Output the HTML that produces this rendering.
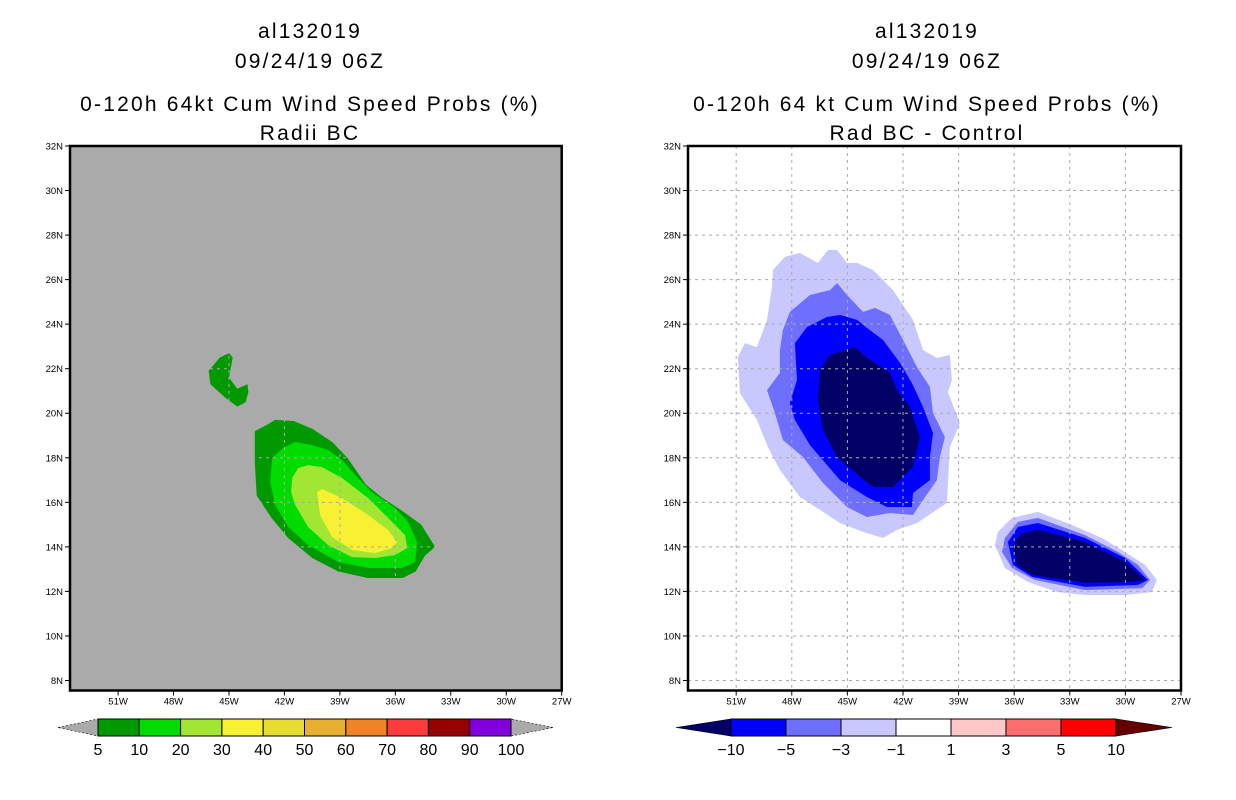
<!DOCTYPE html>
<html><head><meta charset="utf-8"><style>
body{margin:0;background:#fff;}
svg{display:block;font-family:"Liberation Sans",sans-serif;}
</style></head><body>
<svg id="c" width="1236" height="800" viewBox="0 0 1236 800">
<g id="left"></g>
<g id="right"></g>
</svg>
<script>
// ---- data (lon in deg W, lat in deg N) ----
const lonTicks = [51,48,45,42,39,36,33,30,27];
const latTicks = [32,30,28,26,24,22,20,18,16,14,12,10,8];
const leftLevels = ['5','10','20','30','40','50','60','70','80','90','100'];
const leftColors = ['#009900','#00dc00','#a0e632','#f8f032','#e6dc32','#e6af2d','#f08228','#fa3c3c','#960000','#8200dc'];
const rightLevels = ['-10','-5','-3','-1','1','3','5','10'];
const rightColors = ['#0000ff','#6e6eff','#c8c8ff','#ffffff','#ffc8c8','#ff6e6e','#ff0000'];
const left5a = [[43.6,19.2],[42.9,19.5],[42.5,19.7],[41.5,19.65],[40.5,19.3],[39.4,18.7],[38.6,18.0],[37.6,16.8],[36.7,16.2],[35.6,15.6],[34.6,15.0],[33.85,14.0],[34.4,13.6],[34.9,12.9],[35.6,12.6],[37.5,12.6],[39.1,12.9],[40.5,13.5],[41.8,14.4],[42.7,15.3],[43.5,16.3],[43.6,17.8]];
const left5b = [[46.1,21.9],[45.5,22.5],[45.0,22.7],[44.8,22.5],[45.0,21.6],[44.55,21.1],[44.0,21.3],[43.95,20.95],[44.1,20.5],[44.55,20.3],[45.2,20.7],[46.0,21.3]];
const left10 = [[42.66,17.99],[42.07,18.44],[41.42,18.71],[40.5,18.57],[39.64,18.35],[38.88,17.9],[38.18,17.23],[37.26,16.46],[36.02,15.75],[35.31,15.12],[34.82,14.22],[34.93,13.32],[35.63,13.05],[37.47,13.05],[39.09,13.32],[40.72,14.08],[41.79,14.89],[42.5,15.88],[42.77,16.91]];
const left20 = [[41.58,17.09],[41.26,17.54],[40.72,17.67],[39.96,17.58],[38.88,17.09],[37.47,16.19],[36.39,15.3],[35.47,14.53],[35.36,13.95],[36.02,13.63],[37.1,13.5],[38.34,13.54],[39.64,14.08],[40.72,14.89],[41.42,15.88],[41.64,16.46]];
const left30 = [[40.23,16.46],[39.96,16.6],[38.88,16.19],[37.47,15.43],[36.39,14.76],[35.9,14.22],[36.17,13.95],[37.1,13.72],[38.34,13.86],[39.42,14.44],[40.07,15.43]];
const rA1 = [[49.02,26.43],[48.37,27.02],[47.56,27.2],[46.59,26.75],[46.05,27.33],[45.56,27.33],[45.02,26.75],[44.48,26.75],[43.62,26.43],[42.54,25.53],[41.46,24.19],[40.92,22.84],[40.17,22.48],[39.47,22.62],[39.36,21.49],[39.57,20.95],[38.93,19.56],[39.47,18.48],[39.63,15.97],[41.25,15.07],[42.33,14.76],[43.08,14.4],[44.16,14.67],[45.4,15.07],[46.48,15.66],[47.56,16.24],[48.64,17.45],[49.29,18.48],[49.88,19.7],[50.8,20.91],[50.91,22.53],[50.53,23.15],[49.88,22.97],[49.34,24.19],[49.07,25.67]];
const rA3 = [[48.48,23.74],[48.1,24.55],[47.02,25.31],[45.94,25.53],[45.56,25.85],[45.02,25.31],[44.16,24.55],[43.51,24.73],[42.7,24.41],[42.0,23.29],[41.25,22.08],[40.55,21.18],[40.38,20.01],[39.74,18.93],[40.01,18.04],[40.17,17.0],[40.92,16.1],[41.46,15.43],[42.7,15.52],[43.95,15.34],[45.02,15.79],[46.32,16.87],[47.4,18.04],[48.48,18.8],[48.91,20.01],[49.34,21.04],[48.64,21.81],[48.64,22.84]];
const rA5 = [[47.83,23.15],[47.18,23.87],[46.1,24.32],[45.4,24.41],[44.48,24.19],[43.95,23.83],[43.08,23.29],[42.16,22.26],[41.52,21.36],[40.92,20.28],[40.38,19.11],[40.55,18.04],[40.55,17.0],[41.46,16.42],[41.52,15.79],[42.87,15.79],[43.95,16.24],[45.4,17.0],[46.48,18.04],[47.02,18.57],[47.83,19.7],[48.1,20.46],[47.72,21.49]];
const rA10 = [[46.48,21.94],[45.94,22.62],[44.59,22.97],[43.78,22.39],[42.7,21.81],[42.33,21.04],[41.62,20.28],[41.09,18.93],[41.46,17.59],[42.54,16.69],[43.62,16.69],[44.32,17.14],[45.56,18.04],[46.32,19.25],[46.59,20.59]];
const rB1 = [[36.88,14.67],[36.12,15.3],[34.72,15.57],[32.88,14.98],[31.26,14.4],[30.02,13.77],[28.94,13.19],[28.3,12.51],[28.57,11.97],[30.02,11.84],[32.18,11.84],[33.64,11.97],[35.26,12.42],[36.5,13.05],[37.04,14.08]];
const rB3 = [[36.5,14.4],[35.8,15.12],[34.72,15.3],[32.18,14.53],[30.4,13.77],[29.32,13.19],[28.67,12.51],[29.1,12.15],[32.18,12.06],[34.88,12.51],[36.12,13.05],[36.66,13.77]];
const rB5 = [[36.34,14.22],[35.8,14.89],[34.72,15.07],[32.18,14.4],[30.02,13.5],[28.78,12.51],[29.32,12.29],[32.18,12.2],[35.04,12.65],[36.07,13.19]];
const rB10 = [[36.07,14.08],[35.58,14.62],[34.72,14.76],[32.18,14.22],[30.02,13.32],[28.94,12.51],[29.64,12.42],[32.18,12.38],[35.04,12.74],[35.85,13.19]];

const NS='http://www.w3.org/2000/svg';
function mk(parent,tag,attrs){const e=document.createElementNS(NS,tag);for(const k in attrs)e.setAttribute(k,attrs[k]);parent.appendChild(e);return e;}
const TOP=146,BOT=690.5,LATMAX=32,PXLAT=22.27;
function panel(g,x0,x1,bg,gridCol,layers,titleL3,titleL4,cx){
  const X=lon=>x1-(lon-27)*(x1-x0)/26.6;
  const Y=lat=>TOP+(LATMAX-lat)*PXLAT;
  const t=[['al132019',38],['09/24/19 06Z',68],[titleL3,111],[titleL4,140]];
  t.forEach((r,i)=>{const e=mk(g,'text',{x:cx,y:r[1],'text-anchor':'middle','font-size':'21','letter-spacing':'2.2'});e.textContent=r[0];
    
    });
  const bgR=mk(g,'rect',{x:x0,y:TOP,width:x1-x0,height:BOT-TOP,fill:bg});
  
  
  layers.forEach(L=>{const p=mk(g,'polygon',{points:L.pts.map(d=>X(d[0]).toFixed(1)+','+Y(d[1]).toFixed(1)).join(' '),fill:L.col});
    
    });
  lonTicks.forEach(l=>{const x=X(l);
    if(l>27){const gl=mk(g,'line',{x1:x,x2:x,y1:TOP,y2:BOT,stroke:gridCol,'stroke-width':1,'stroke-dasharray':'3,4'});
      
      }
    mk(g,'line',{x1:x,x2:x,y1:BOT,y2:BOT+5,stroke:'#000','stroke-width':1});
    const tx=mk(g,'text',{x:x,y:BOT+14,'text-anchor':'middle','font-size':'9.5'});tx.textContent=l+'W';
    
    });
  latTicks.forEach(l=>{const y=Y(l);
    if(l<32){const gl=mk(g,'line',{x1:x0,x2:x1,y1:y,y2:y,stroke:gridCol,'stroke-width':1,'stroke-dasharray':'3,4'});
      
      }
    mk(g,'line',{x1:x0-5,x2:x0,y1:y,y2:y,stroke:'#000','stroke-width':1});
    const tx=mk(g,'text',{x:x0-7,y:y+3.5,'text-anchor':'end','font-size':'9.5'});tx.textContent=l+'N';
    
    });
  const fr=mk(g,'rect',{x:x0,y:TOP,width:x1-x0,height:BOT-TOP,fill:'none',stroke:'#000','stroke-width':2.5});
  
  
}
function colorbar(g,tipL,bx0,bx1,tipR,levels,colors,lowCol,highCol){
  const y0=719,y1=736,ym=727.5,n=colors.length,w=(bx1-bx0)/n;
  const a=mk(g,'polygon',{points:`${tipL},${ym} ${bx0},${y0} ${bx0},${y1}`,fill:lowCol,stroke:'#000','stroke-width':0.6,'stroke-dasharray':lowCol=='#aaaaaa'?'2,2':'none'});
  
  
  const b=mk(g,'polygon',{points:`${tipR},${ym} ${bx1},${y0} ${bx1},${y1}`,fill:highCol,stroke:'#000','stroke-width':0.6,'stroke-dasharray':highCol=='#aaaaaa'?'2,2':'none'});
  
  
  colors.forEach((c,i)=>{const r=mk(g,'rect',{x:bx0+i*w,y:y0,width:w,height:y1-y0,fill:c,stroke:'#000','stroke-width':1});
    
    });
  levels.forEach((s,i)=>{const t=mk(g,'text',{x:bx0+i*w,y:755,'text-anchor':'middle','font-size':'16'});t.textContent=s.replace('-','\u2212');
    
    });
}
const L=document.getElementById('left'),R=document.getElementById('right');
panel(L,70,561.7,'#aaaaaa','#aaaaaa',[
  {pts:left5a,col:leftColors[0],name:'prob-5-main'},{pts:left5b,col:leftColors[0],name:'prob-5-small'},
  {pts:left10,col:leftColors[1],name:'prob-10'},{pts:left20,col:leftColors[2],name:'prob-20'},{pts:left30,col:leftColors[3],name:'prob-30'}],
  '0-120h 64kt Cum Wind Speed Probs (%)','Radii BC',310);
panel(R,688,1181,'#ffffff','#aaaaaa',[
  {pts:rA1,col:rightColors[2],name:'diff-m1-north'},{pts:rA3,col:rightColors[1],name:'diff-m3-north'},
  {pts:rA5,col:rightColors[0],name:'diff-m5-north'},{pts:rA10,col:'#000066',name:'diff-m10-north'},
  {pts:rB1,col:rightColors[2],name:'diff-m1-south'},{pts:rB3,col:rightColors[1],name:'diff-m3-south'},
  {pts:rB5,col:rightColors[0],name:'diff-m5-south'},{pts:rB10,col:'#000066',name:'diff-m10-south'}],
  '0-120h 64 kt Cum Wind Speed Probs (%)','Rad BC - Control',927);
colorbar(L,58,98,511,553,leftLevels,leftColors,'#aaaaaa','#aaaaaa');
colorbar(R,676,731,1116,1172,rightLevels,rightColors,'#000066','#640000');
</script>
</body></html>
